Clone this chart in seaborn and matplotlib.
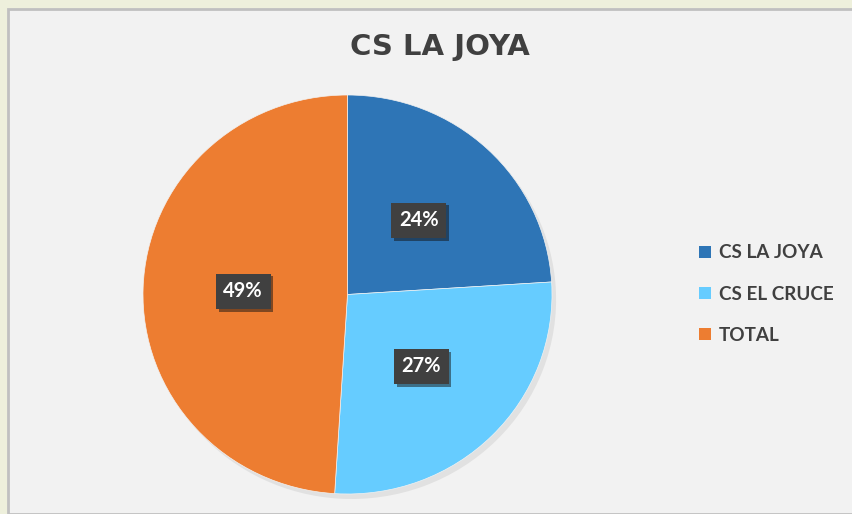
import matplotlib
matplotlib.use("Agg")
import matplotlib.pyplot as plt
import matplotlib.patches as mpatches
import matplotlib.patheffects as pe
import seaborn as sns

categories = ["CS LA JOYA", "CS EL CRUCE", "TOTAL"]
values = [24, 27, 49]
title = "CS LA JOYA"
colors = sns.color_palette(["#2e75b6", "#66ccff", "#ed7d31"])

sns.set_theme(style="white")
plt.rcParams['font.family'] = ['Lato', 'DejaVu Sans']

W, H = 853, 514
fig = plt.figure(figsize=(W / 100, H / 100), dpi=100)
fig.patch.set_facecolor("#eef0dc")

# chart frame
frame = mpatches.Rectangle((8 / W, 0), 1, 1 - 9 / H, transform=fig.transFigure,
                           facecolor="#f2f2f2", edgecolor="#c0c0c0", lw=2, zorder=-5)
fig.patches.append(frame)

cx, cy, rx, ry = 347.5, 294.5, 204.5, 199.5
ax = fig.add_axes([(cx - rx) / W, (H - cy - ry) / H, 2 * rx / W, 2 * ry / H])
ax.set_zorder(2)
ax.set_facecolor("none")

# subtle shadow
sh = ax.pie(values, startangle=90, counterclock=False, radius=1.0,
            center=(0.02, -0.025), colors=["#d6d6d6"] * 3,
            wedgeprops=dict(linewidth=0, alpha=0.6))
wedges, texts, autotexts = ax.pie(values, startangle=90, counterclock=False,
                                  colors=colors, autopct="%1.0f%%", pctdistance=0.51,
                                  wedgeprops=dict(linewidth=0.5, edgecolor="#f2f2f2"),
                                  textprops=dict(color="white", fontsize=14.5, fontweight="bold"))
for t in autotexts:
    t.set_bbox(dict(boxstyle="square,pad=0.38", facecolor="#404040", edgecolor="none"))
    t.get_bbox_patch().set_path_effects([pe.SimplePatchShadow(offset=(2, -2), alpha=0.5),
                                         pe.Normal()])
ax.set_aspect("auto")
ax.set_xlim(-1.0, 1.0)
ax.set_ylim(-1.0, 1.0)
ax.axis("off")

fig.text(440 / W, 1 - 47 / H, title, ha="center", va="center", fontsize=21,
         fontweight="bold", color="#404040",
         family=["DejaVu Sans"])

handles = [mpatches.Patch(facecolor=c, edgecolor="none") for c in colors]
leg = fig.legend(handles, categories, loc="center left",
                 bbox_to_anchor=(682 / W, 1 - 294 / H), frameon=False,
                 fontsize=13.6, handlelength=0.62, handleheight=0.62,
                 labelspacing=1.28, handletextpad=0.45)
for t in leg.get_texts():
    t.set_color("#404040")
    t.set_fontweight("bold")

fig.savefig("out.png", dpi=100)
